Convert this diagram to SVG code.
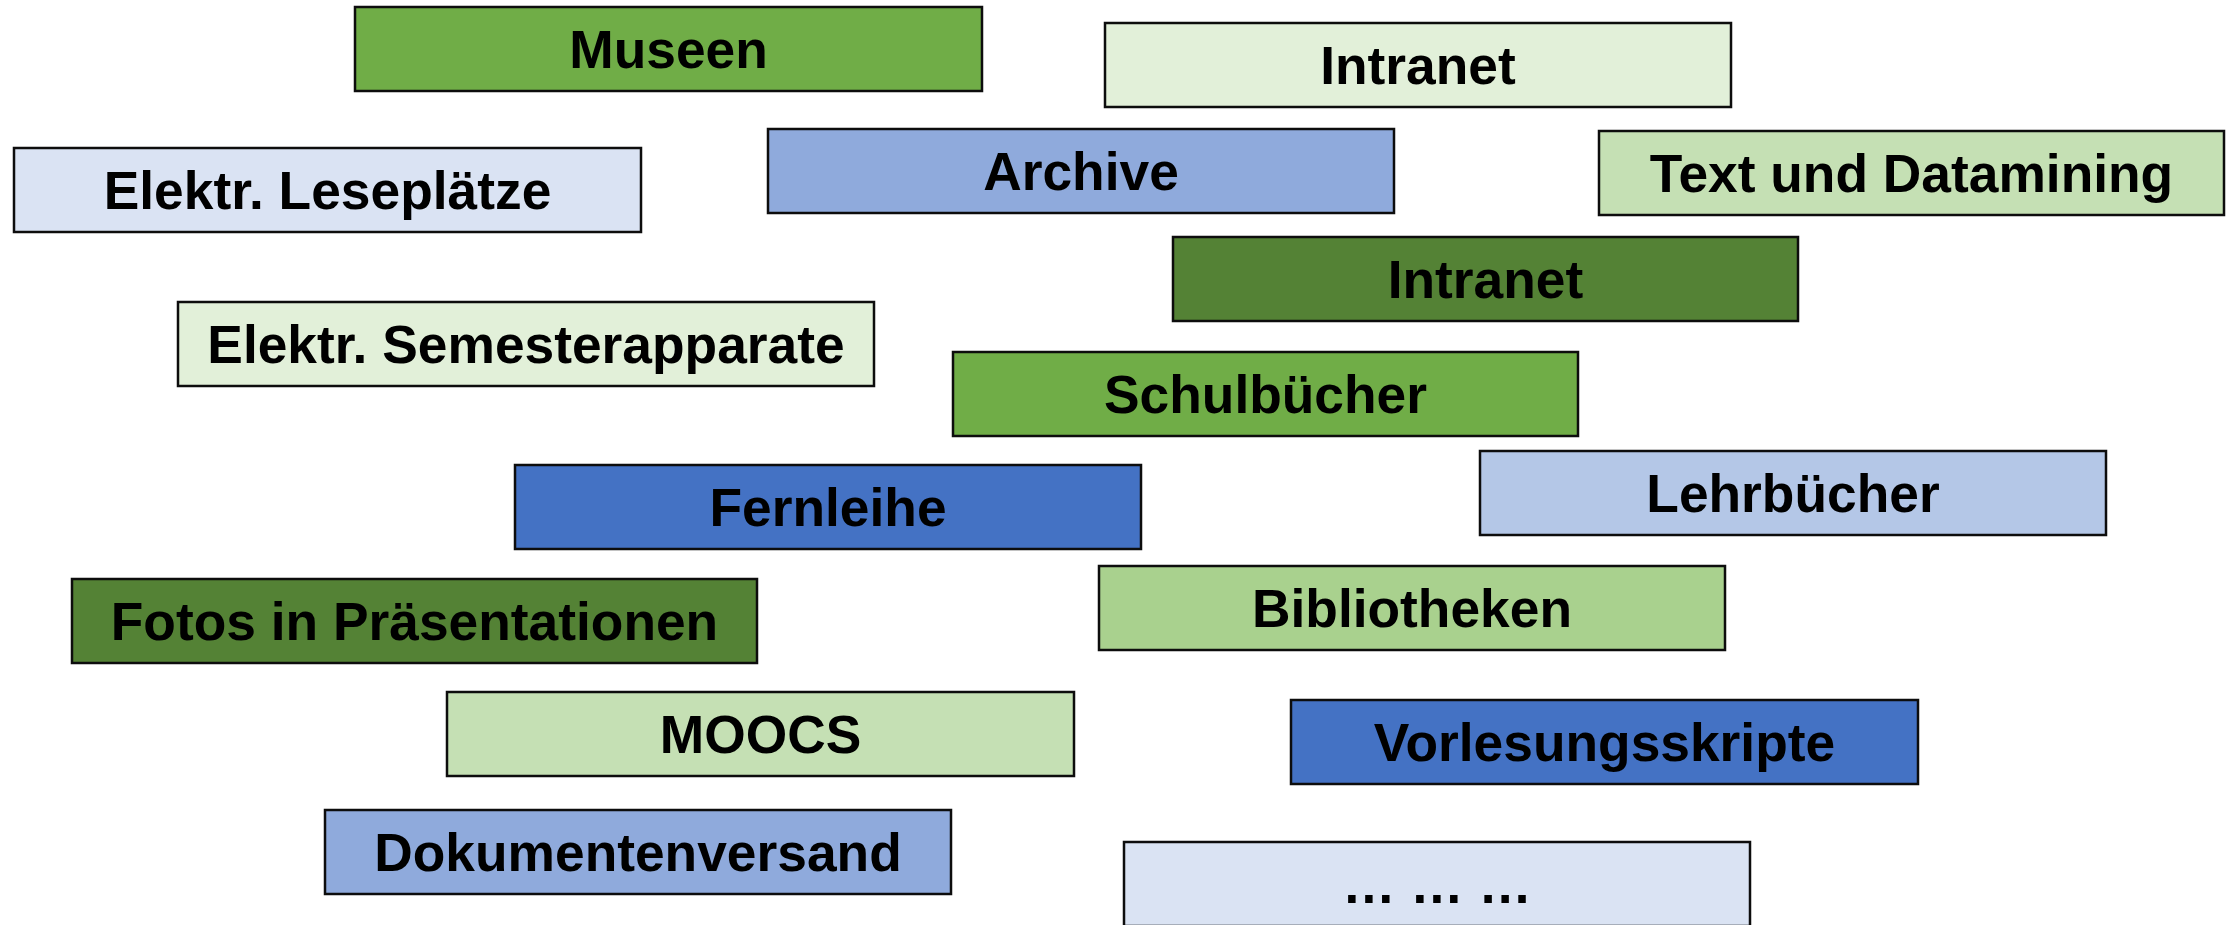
<svg xmlns="http://www.w3.org/2000/svg" width="2232" height="925" viewBox="0 0 2232 925">
<style>
rect.b{stroke:#0d0d0d;stroke-width:2.5}
text{font-family:"Liberation Sans",Arial,sans-serif;font-weight:bold;font-size:53.33px;fill:#000;text-anchor:middle}
.g1{fill:#70AD47}.g2{fill:#E2F0D9}.g3{fill:#C5E0B4}.g4{fill:#548235}.g5{fill:#A9D18E}
.b1{fill:#DAE3F3}.b2{fill:#8FAADC}.b3{fill:#4472C4}.b4{fill:#B4C7E7}
</style>
<rect width="2232" height="925" fill="#fff"/>
<g id="connectors"/>
<g id="museen"><rect class="b g1" x="355" y="7" width="627" height="84"/><text x="668.5" y="67.5">Museen</text></g>
<g id="intranet1"><rect class="b g2" x="1105" y="23" width="626" height="84"/><text x="1418" y="83.5">Intranet</text></g>
<g id="leseplaetze"><rect class="b b1" x="14" y="148" width="627" height="84"/><text x="327.5" y="208.5">Elektr. Leseplätze</text></g>
<g id="archive"><rect class="b b2" x="768" y="129" width="626" height="84"/><text x="1081" y="189.5">Archive</text></g>
<g id="datamining"><rect class="b g3" x="1599" y="131" width="625" height="84"/><text x="1911.5" y="191.5">Text und Datamining</text></g>
<g id="intranet2"><rect class="b g4" x="1173" y="237" width="625" height="84"/><text x="1485.5" y="297.5">Intranet</text></g>
<g id="semesterapparate"><rect class="b g2" x="178" y="302" width="696" height="84"/><text x="526" y="362.5">Elektr. Semesterapparate</text></g>
<g id="schulbuecher"><rect class="b g1" x="953" y="352" width="625" height="84"/><text x="1265.5" y="412.5">Schulbücher</text></g>
<g id="fernleihe"><rect class="b b3" x="515" y="465" width="626" height="84"/><text x="828" y="525.5">Fernleihe</text></g>
<g id="lehrbuecher"><rect class="b b4" x="1480" y="451" width="626" height="84"/><text x="1793" y="511.5">Lehrbücher</text></g>
<g id="fotos"><rect class="b g4" x="72" y="579" width="685" height="84"/><text x="414.5" y="639.5">Fotos in Präsentationen</text></g>
<g id="bibliotheken"><rect class="b g5" x="1099" y="566" width="626" height="84"/><text x="1412" y="626.5">Bibliotheken</text></g>
<g id="moocs"><rect class="b g3" x="447" y="692" width="627" height="84"/><text x="760.5" y="752.5">MOOCS</text></g>
<g id="vorlesungsskripte"><rect class="b b3" x="1291" y="700" width="627" height="84"/><text x="1604.5" y="760.5">Vorlesungsskripte</text></g>
<g id="dokumentenversand"><rect class="b b2" x="325" y="810" width="626" height="84"/><text x="638" y="870.5">Dokumentenversand</text></g>
<g id="more"><rect class="b b1" x="1124" y="842" width="626" height="84"/><text x="1437" y="902.5">… … …</text></g>
</svg>
